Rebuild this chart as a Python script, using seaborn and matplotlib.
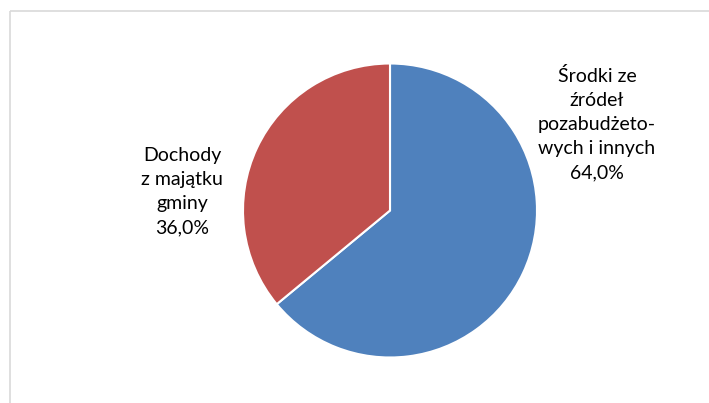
import matplotlib
matplotlib.use("Agg")
import matplotlib.pyplot as plt
import seaborn as sns

labels = ["Środki ze\nźródeł\npozabudżeto-\nwych i innych", "Dochody\nz majątku\ngminy"]
values = [64.0, 36.0]
colors = ["#4F81BD", "#C0504D"]

sns.set_theme(style="white")
plt.rcParams['font.family'] = ['Lato', 'DejaVu Sans']

W, H = 709, 403
fig = plt.figure(figsize=(W / 100, H / 100), dpi=100)
ax = fig.add_axes([0, 0, 1, 1])

ax.pie(values, colors=colors, startangle=90, counterclock=False,
       center=(390, H - 210.5), radius=147,
       wedgeprops=dict(edgecolor='white', linewidth=1.5))
ax.set_xlim(0, W)
ax.set_ylim(0, H)
ax.set_aspect('equal')
ax.axis('off')

label_pos = [(597, H - 124), (182, H - 192)]
for lab, v, (x, y) in zip(labels, values, label_pos):
    ax.text(x, y, f"{lab}\n{v:.1f}%".replace('.', ','), ha='center', va='center',
            fontsize=14, color='#000000', linespacing=1.5)

# chart area border (top and left visible)
ax.plot([9.5, W], [H - 11, H - 11], color='#d9d9d9', lw=1.2, solid_capstyle='butt')
ax.plot([9.5, 9.5], [0, H - 11], color='#d9d9d9', lw=1.2, solid_capstyle='butt')

fig.savefig("out.png", dpi=100)
